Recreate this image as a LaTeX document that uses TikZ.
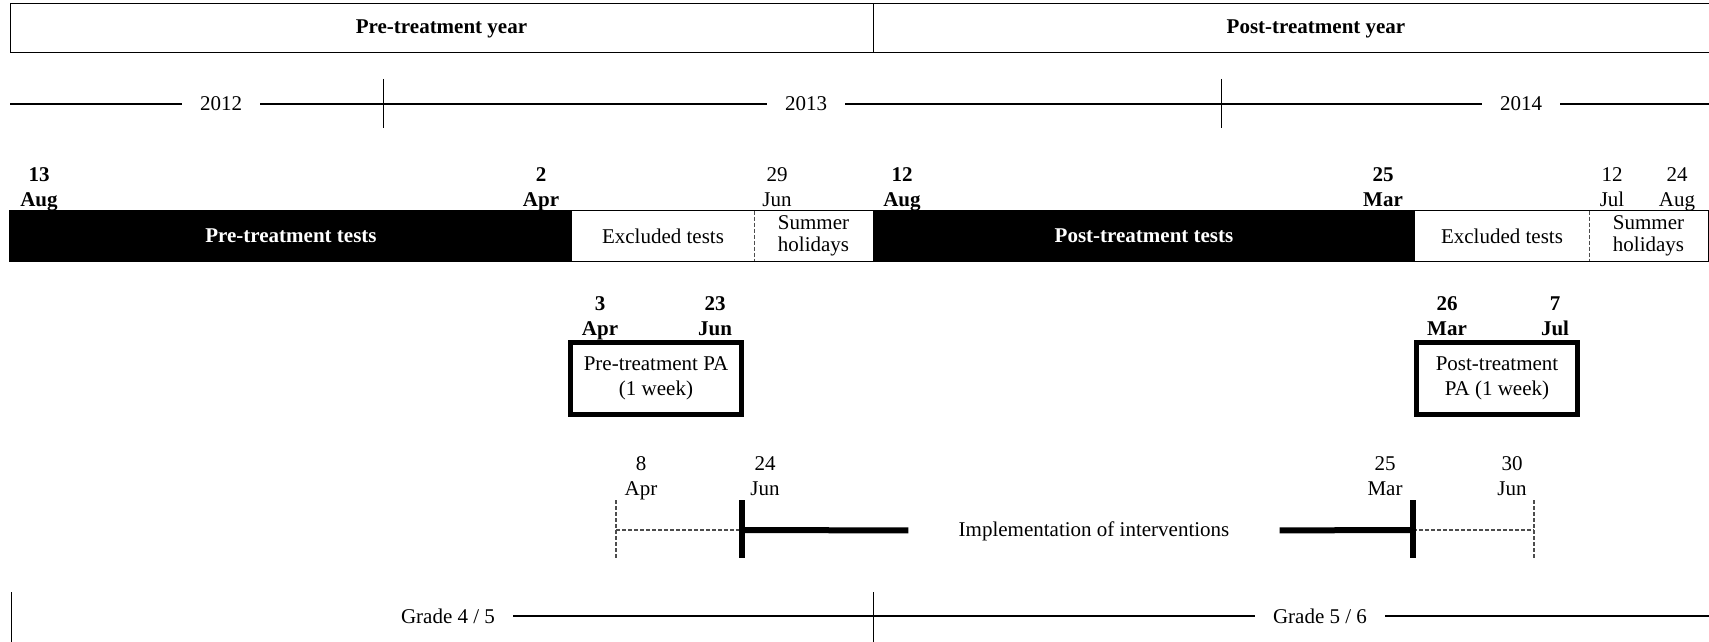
\documentclass[tikz,border=0pt]{standalone}
\usepackage{fontspec}
\setmainfont{Liberation Serif}
\usetikzlibrary{positioning, calc}
\definecolor{dashgray}{HTML}{4D4D4D}

\begin{document}
\begin{tikzpicture}[
    x=0.5pt, y=-0.5pt,
    every node/.style={font=\fontsize{10.5}{12.5}\selectfont, align=center},
    headbox/.style={
        draw, line width=0.5pt, inner sep=0pt,
        minimum height=24.5pt, font=\fontsize{10.5}{12.5}\selectfont\bfseries,
    },
    datelabel/.style={inner sep=0pt, anchor=north},
    bolddate/.style={
        inner sep=0pt, anchor=north,
        font=\fontsize{10.5}{12.5}\selectfont\bfseries,
    },
    gaplabel/.style={inner xsep=9pt, inner ysep=0pt},
    darkbar/.style={
        fill=black, text=white, inner sep=0pt, minimum height=25pt,
        font=\fontsize{10.5}{12.5}\selectfont\bfseries,
    },
    lightbar/.style={
        fill=white, inner sep=0pt, minimum height=25pt,
        font=\fontsize{10.5}{11}\selectfont,
    },
    pabox/.style={
        draw, line width=2.5pt, inner sep=0pt, minimum height=36pt,
    },
    thinline/.style={line width=0.85pt},
    tickline/.style={line width=0.5pt},
    thickline/.style={line width=3pt},
    dashline/.style={draw=dashgray, line width=0.6pt, dash pattern=on 2pt off 1pt},
]
\useasboundingbox (0,0) rectangle (1709,642);

\node[headbox, minimum width=431.5pt] (preyear) at (441.5,28.5) {Pre-treatment year};
\node[headbox, minimum width=443pt] (postyear) at (1316,28.5) {Post-treatment year};

\coordinate (yearstart) at (10,104);
\coordinate (yearend) at (1712,104);
\node[gaplabel] (y2012) at (221,104) {2012};
\node[gaplabel] (y2013) at (806,104) {2013};
\node[gaplabel] (y2014) at (1521,104) {2014};
\draw[thinline] (yearstart) -- (y2012) -- (y2013) -- (y2014) -- (yearend);
\foreach \tx in {383,1221}
    \draw[tickline] (\tx,79) -- (\tx,128);

\node[bolddate] (d13aug) at (39,167) {13\\Aug};
\node[bolddate] (d2apr) at (541,167) {2\\Apr};
\node[datelabel] (d29jun) at (777,167) {29\\Jun};
\node[bolddate] (d12aug) at (902,167) {12\\Aug};
\node[bolddate] (d25mar) at (1383,167) {25\\Mar};
\node[datelabel] (d12jul) at (1612,167) {12\\Jul};
\node[datelabel] (d24aug) at (1677,167) {24\\Aug};

\node[darkbar, minimum width=281pt] (pretests) at (291,236) {Pre-treatment tests};
\node[lightbar, minimum width=91pt] (preexcl) at (663,236) {Excluded tests};
\node[lightbar, minimum width=59.5pt] (presummer) at (813.5,236) {Summer\\holidays};
\node[darkbar, minimum width=271pt] (posttests) at (1144,236) {Post-treatment tests};
\node[lightbar, minimum width=87pt] (postexcl) at (1502,236) {Excluded tests};
\node[lightbar, minimum width=59.5pt] (postsummer) at (1648.5,236) {Summer\\holidays};
\draw[line width=0.75pt] (pretests.north west) rectangle (postsummer.south east);
\draw[dashline] (preexcl.north east) -- (preexcl.south east);
\draw[dashline] (postexcl.north east) -- (postexcl.south east);

\node[bolddate] (pa3apr) at (600,296) {3\\Apr};
\node[bolddate] (pa23jun) at (715,296) {23\\Jun};
\node[bolddate] (pa26mar) at (1447,296) {26\\Mar};
\node[bolddate] (pa7jul) at (1555,296) {7\\Jul};
\node[pabox, minimum width=85.5pt] (prepa) at (656,378.5) {Pre-treatment PA\\(1 week)};
\node[pabox, minimum width=80.5pt] (postpa) at (1497,378.5) {Post-treatment\\PA (1 week)};

\node[datelabel] (iv8apr) at (641,456) {8\\Apr};
\node[datelabel] (iv24jun) at (765,456) {24\\Jun};
\node[datelabel] (iv25mar) at (1385,456) {25\\Mar};
\node[datelabel] (iv30jun) at (1512,456) {30\\Jun};
\coordinate (ivpre) at (616,530);
\coordinate (ivstart) at (742,530);
\coordinate (ivend) at (1413,530);
\coordinate (ivpost) at (1534,530);
\node[inner xsep=25pt, inner ysep=0pt] (impl) at (1094,531) {Implementation of interventions};
\draw[dashline] (ivpre) -- (ivstart);
\draw[dashline] (ivend) -- (ivpost);
\draw[thickline] (ivstart) -- (impl) -- (ivend);
\foreach \c in {ivstart, ivend}
    \draw[thickline] ($(\c)+(0,-30)$) -- ($(\c)+(0,28)$);
\foreach \c in {ivpre, ivpost}
    \draw[dashline] ($(\c)+(0,-30)$) -- ($(\c)+(0,28)$);

\node[gaplabel] (grade45) at (448,616) {Grade 4 / 5};
\node[gaplabel] (grade56) at (1320,616) {Grade 5 / 6};
\coordinate (gradeend) at (1712,616);
\draw[thinline] (grade45) -- (grade56) -- (gradeend);
\foreach \tx in {11,873}
    \draw[tickline] (\tx,592) -- (\tx,645);
\end{tikzpicture}
\end{document}
